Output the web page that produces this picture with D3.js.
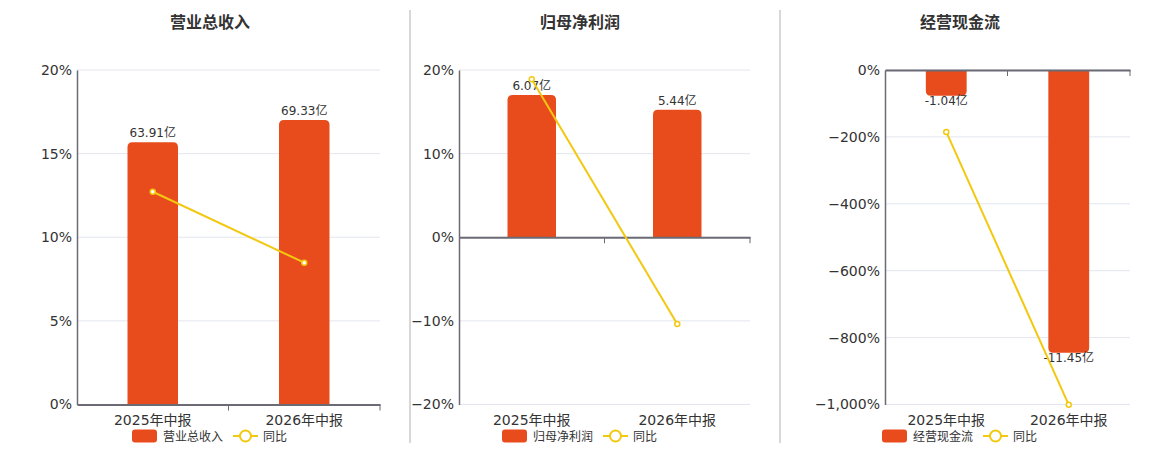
<!DOCTYPE html>
<html>
<head>
<meta charset="utf-8">
<script src="https://cdn.jsdelivr.net/npm/d3@7/dist/d3.min.js"></script>
<style>
  html, body { margin: 0; padding: 0; background: #fff; }
  svg { display: block; font-family: "DejaVu Sans", "Noto Sans CJK SC", sans-serif; }
</style>
</head>
<body>
<svg id="chart" width="1160" height="450"></svg>
<script>
// ---- Data ----
const categories = ["2025年中报", "2026年中报"];

const revenueTitle = "营业总收入";
const revenueValues = [63.91, 69.33];
const revenueLabels = ["63.91亿", "69.33亿"];
const revenueYoY = [12.72, 8.48];
const revenueTicks = [0, 5, 10, 15, 20];

const profitTitle = "归母净利润";
const profitValues = [6.07, 5.44];
const profitLabels = ["6.07亿", "5.44亿"];
const profitYoY = [18.9, -10.38];
const profitTicks = [-20, -10, 0, 10, 20];

const cashTitle = "经营现金流";
const cashValues = [-1.04, -11.45];
const cashLabels = ["-1.04亿", "-11.45亿"];
const cashYoY = [-185, -1001];
const cashTicks = [-1000, -800, -600, -400, -200, 0];

const yoyName = "同比";

// hidden amount axis ranges (亿)
const revenueAmountDomain = [0, 81.5];
const profitAmountDomain = [-7.14, 7.14];
const cashAmountDomain = [-13.55, 0];

// ---- Styles ----
const barColor = "#e84c1d";
const lineColor = "#f2c811";
const gridColor = "#e3e6ef";
const axisColor = "#6b6b76";
const textColor = "#333";

const svg = d3.select("#chart");

const panels = [
  { title: revenueTitle, values: revenueValues, labels: revenueLabels, yoy: revenueYoY,
    ticks: revenueTicks, amountDomain: revenueAmountDomain,
    left: 77, right: 380, centerTitle: 210, legendX: 132 },
  { title: profitTitle, values: profitValues, labels: profitLabels, yoy: profitYoY,
    ticks: profitTicks, amountDomain: profitAmountDomain,
    left: 459, right: 750, centerTitle: 580, legendX: 502 },
  { title: cashTitle, values: cashValues, labels: cashLabels, yoy: cashYoY,
    ticks: cashTicks, amountDomain: cashAmountDomain,
    left: 885, right: 1130, centerTitle: 960, legendX: 882 }
];

const plotTop = 70, plotBottom = 404.5;

// separators
[410, 780].forEach(x => {
  svg.append("line").attr("x1", x).attr("x2", x).attr("y1", 10).attr("y2", 443)
    .attr("stroke", "#b0b0b0").attr("stroke-width", 1);
});

function roundedBar(x, y0, y1, w, r) {
  const h = Math.abs(y1 - y0);
  r = Math.min(r, h / 2, w / 2);
  const p = d3.path();
  if (y1 < y0) {
    p.moveTo(x, y0);
    p.lineTo(x, y1 + r);
    p.quadraticCurveTo(x, y1, x + r, y1);
    p.lineTo(x + w - r, y1);
    p.quadraticCurveTo(x + w, y1, x + w, y1 + r);
    p.lineTo(x + w, y0);
  } else {
    p.moveTo(x, y0);
    p.lineTo(x, y1 - r);
    p.quadraticCurveTo(x, y1, x + r, y1);
    p.lineTo(x + w - r, y1);
    p.quadraticCurveTo(x + w, y1, x + w, y1 - r);
    p.lineTo(x + w, y0);
  }
  p.closePath();
  return p.toString();
}

panels.forEach(pn => {
  const g = svg.append("g");
  const yDomain = d3.extent(pn.ticks);
  const y = d3.scaleLinear().domain(yDomain).range([plotBottom, plotTop]);
  const yAmt = d3.scaleLinear().domain(pn.amountDomain).range([plotBottom, plotTop]);
  const x = d3.scaleBand().domain(categories).range([pn.left, pn.right]).padding(0);
  const barW = x.bandwidth() / 3;

  g.append("text").attr("x", pn.centerTitle).attr("y", 28)
    .attr("text-anchor", "middle").attr("font-size", 16).attr("font-weight", "bold")
    .attr("fill", textColor).text(pn.title);

  g.selectAll(".grid").data(pn.ticks).enter().append("line")
    .attr("x1", pn.left).attr("x2", pn.right)
    .attr("y1", d => y(d)).attr("y2", d => y(d))
    .attr("stroke", gridColor).attr("stroke-width", 1);

  const fmt = d3.format(",.0f");
  const yAxis = d3.axisLeft(y).tickValues(pn.ticks).tickSize(0).tickPadding(5)
    .tickFormat(d => fmt(d) + "%");
  const ya = g.append("g").attr("transform", `translate(${pn.left},0)`).call(yAxis);
  ya.select(".domain").attr("stroke", axisColor).attr("stroke-width", 1.5);
  ya.selectAll("text").attr("font-size", 14).attr("fill", textColor)
    .attr("font-family", "DejaVu Sans, sans-serif");

  const zeroY = yAmt(0);
  pn.values.forEach((v, i) => {
    const cx = x(categories[i]) + x.bandwidth() / 2;
    g.append("path")
      .attr("d", roundedBar(cx - barW / 2, zeroY, yAmt(v), barW, 5))
      .attr("fill", barColor);
  });

  const xAxis = d3.axisBottom(x).tickSize(0).tickFormat("");
  const xa = g.append("g").attr("transform", `translate(0,${y(0)})`).call(xAxis);
  xa.select(".domain").attr("stroke", axisColor).attr("stroke-width", 2);
  const bounds = [x(categories[1]), pn.right];
  g.selectAll(".btick").data(bounds).enter().append("line")
    .attr("x1", d => d).attr("x2", d => d)
    .attr("y1", y(0)).attr("y2", y(0) + 6)
    .attr("stroke", axisColor).attr("stroke-width", 1);

  g.selectAll(".cat").data(categories).enter().append("text")
    .attr("x", d => x(d) + x.bandwidth() / 2).attr("y", 425)
    .attr("text-anchor", "middle").attr("font-size", 14).attr("fill", textColor)
    .text(d => d);

  pn.values.forEach((v, i) => {
    const cx = x(categories[i]) + x.bandwidth() / 2;
    const yy = v >= 0 ? yAmt(v) - 5 : yAmt(v) + 9;
    g.append("text").attr("x", cx).attr("y", yy)
      .attr("text-anchor", "middle").attr("font-size", 12).attr("fill", textColor)
      .text(pn.labels[i]);
  });

  const pts = pn.yoy.map((v, i) => [x(categories[i]) + x.bandwidth() / 2, y(v)]);
  g.append("path").attr("d", d3.line()(pts))
    .attr("fill", "none").attr("stroke", lineColor).attr("stroke-width", 2);
  g.selectAll(".pt").data(pts).enter().append("circle")
    .attr("cx", d => d[0]).attr("cy", d => d[1]).attr("r", 2.5)
    .attr("fill", "#fff").attr("stroke", lineColor).attr("stroke-width", 1.5);

  const lx = pn.legendX, ly = 436;
  g.append("rect").attr("x", lx).attr("y", ly - 6.5).attr("width", 25).attr("height", 13)
    .attr("rx", 3).attr("fill", barColor);
  g.append("text").attr("x", lx + 31).attr("y", ly + 4.5).attr("font-size", 12)
    .attr("fill", textColor).text(pn.title);
  g.append("line").attr("x1", lx + 101).attr("x2", lx + 126).attr("y1", ly).attr("y2", ly)
    .attr("stroke", lineColor).attr("stroke-width", 2);
  g.append("circle").attr("cx", lx + 113.5).attr("cy", ly).attr("r", 5.5)
    .attr("fill", "#fff").attr("stroke", lineColor).attr("stroke-width", 2);
  g.append("text").attr("x", lx + 131).attr("y", ly + 4.5).attr("font-size", 12)
    .attr("fill", textColor).text(yoyName);
});
</script>
</body>
</html>
